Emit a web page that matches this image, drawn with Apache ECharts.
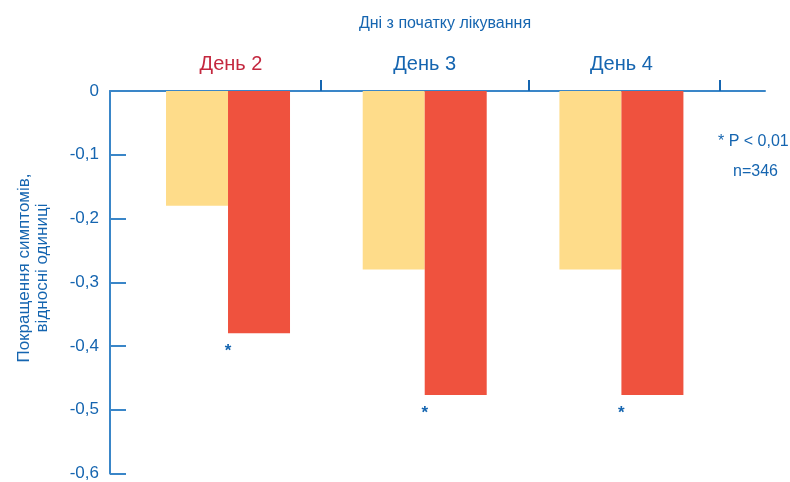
<!DOCTYPE html>
<html>
<head>
<meta charset="utf-8">
<script src="https://cdn.jsdelivr.net/npm/echarts@6/dist/echarts.min.js"></script>
<style>
html,body{margin:0;padding:0;background:#fff;}
#chart{width:790px;height:482px;}
</style>
</head>
<body>
<div id="chart"></div>
<script>
// Data
var categories = ['День 2', 'День 3', 'День 4'];
var categoryColors = ['#c4283f', '#1565b0', '#1565b0'];
var placeboValues = [-0.18, -0.28, -0.28];
var treatmentValues = [-0.38, -0.477, -0.477];
var significant = [true, true, true];
var yTicks = [0, -0.1, -0.2, -0.3, -0.4, -0.5, -0.6];
var title = 'Дні з початку лікування';
var yTitle = 'Покращення симптомів,\nвідносні одиниці';
var noteLines = ['* P < 0,01', 'n=346'];

var FONT = '"Liberation Sans Narrow", "Liberation Sans", Arial, sans-serif';
var BLUE = '#1565b0';
var AXIS = '#3a86c8';

var positions = categories.map(function (c, i) { return i + 1; });
var separators = [1.47, 2.53, 3.5];

var chart = echarts.init(document.getElementById('chart'), null, {renderer: 'canvas'});
chart.setOption({
  animation: false,
  backgroundColor: '#fff',
  title: {
    text: title,
    left: 440, top: 11, textAlign: 'center',
    textStyle: {fontFamily: FONT, fontSize: 16, fontWeight: 'normal', color: BLUE}
  },
  graphic: [
    {
      type: 'text', left: 718, top: 134,
      style: {text: noteLines[0], fontFamily: FONT, fontSize: 16, fill: BLUE}
    },
    {
      type: 'text', left: 733, top: 164,
      style: {text: noteLines[1], fontFamily: FONT, fontSize: 16, fill: BLUE}
    },
    {
      type: 'text', x: 33, y: 268, rotation: Math.PI / 2,
      style: {text: yTitle, fontFamily: FONT, fontSize: 17, fill: BLUE, align: 'center', verticalAlign: 'middle', lineHeight: 18}
    }
  ],
  grid: {left: 110, right: 25, top: 91, bottom: 6, containLabel: false},
  xAxis: {
    type: 'value',
    position: 'top',
    min: 0.4, max: 3.73,
    splitLine: {show: false},
    axisLine: {show: true, onZero: false, lineStyle: {color: AXIS, width: 2}},
    axisTick: {show: true, inside: false, length: 11, customValues: separators, lineStyle: {color: '#1565b0', width: 2}},
    axisLabel: {
      show: true, margin: 17,
      customValues: positions,
      formatter: function (v) {
        var i = Math.round(v) - 1;
        return '{c' + i + '|' + categories[i] + '}';
      },
      rich: {
        c0: {color: categoryColors[0], fontFamily: FONT, fontSize: 20, padding: [0, 0, 0, 6]},
        c1: {color: categoryColors[1], fontFamily: FONT, fontSize: 20},
        c2: {color: categoryColors[2], fontFamily: FONT, fontSize: 20}
      }
    }
  },
  yAxis: {
    type: 'value',
    min: -0.6, max: 0, interval: 0.1,
    splitLine: {show: false},
    axisLine: {show: true, lineStyle: {color: AXIS, width: 2}},
    axisTick: {show: true, inside: true, length: 16, lineStyle: {color: AXIS, width: 2}},
    axisLabel: {
      margin: 11, color: BLUE, fontFamily: FONT, fontSize: 17,
      customValues: yTicks,
      formatter: function (v) {
        if (Math.abs(v) < 1e-9) return '0';
        return v.toFixed(1).replace('.', ',');
      }
    }
  },
  series: [
    {
      type: 'bar', name: 'placebo',
      data: positions.map(function (p, i) { return [p, placeboValues[i]]; }),
      barWidth: 62, barGap: '0%',
      itemStyle: {color: '#fedc8a'},
      z: 2
    },
    {
      type: 'bar', name: 'treatment',
      data: positions.map(function (p, i) { return [p, treatmentValues[i]]; }),
      barWidth: 62, barGap: '0%',
      itemStyle: {color: '#ef523e'},
      label: {
        show: true, position: 'bottom', distance: 10, offset: [-31, 0],
        formatter: function (p) { return significant[p.dataIndex] ? '*' : ''; },
        color: BLUE, fontFamily: FONT, fontSize: 17, fontWeight: 'bold'
      },
      z: 2
    }
  ]
});
</script>
</body>
</html>
